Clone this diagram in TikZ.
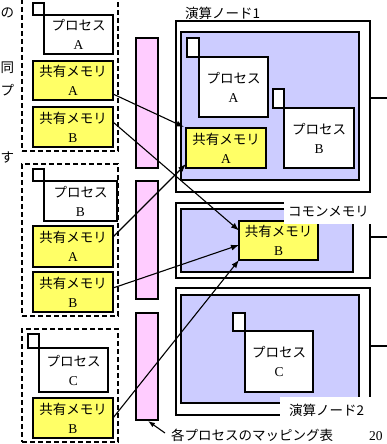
\documentclass[tikz,border=0pt]{standalone}
\usepackage{fontspec}
\setmainfont{Liberation Serif}
\newfontfamily\jp{Noto Sans CJK JP}
\usetikzlibrary{arrows.meta,calc}
\definecolor{memyellow}{HTML}{FFFF66}
\definecolor{nodepurple}{HTML}{CCCCFF}
\definecolor{mappink}{HTML}{FFCCFF}
\tikzset{
  base/.style={draw=black, line width=1.1pt, inner sep=0pt, outer sep=0pt,
    font=\fontsize{13.5}{19}\selectfont, align=center},
  grp/.style={base, dash pattern=on 5pt off 3pt},
  sqbox/.style={base, fill=white},
  proc/.style={base, fill=white},
  mem/.style={base, fill=memyellow},
  mapbar/.style={base, fill=mappink},
  outerbox/.style={base, fill=white},
  innerbox/.style={base, fill=nodepurple, line width=1.3pt},
  lbl/.style={inner sep=0pt, font=\fontsize{13.5}{19}\selectfont\jp},
  wlbl/.style={lbl, fill=white},
  arr/.style={line width=1.1pt, -{Latex[length=8pt,width=6pt]}},
  rline/.style={line width=2pt},
}
\begin{document}
\begin{tikzpicture}[x=1pt,y=-1pt]
\useasboundingbox (0,0) rectangle (387,444);

% text fragments at the left edge
\node[lbl, anchor=west] (t1) at (0.5,13) {の};
\node[lbl, anchor=west] (t2) at (0.5,68) {同};
\node[lbl, anchor=west] (t3) at (0.5,90) {プ};
\node[lbl, anchor=west] (t4) at (0.5,158) {す};

% left groups
\node[grp, minimum width=96pt, minimum height=156pt] (g1) at (70,73) {};
\node[grp, minimum width=96pt, minimum height=152pt] (g2) at (70,240) {};
\node[grp, minimum width=96pt, minimum height=113pt] (g3) at (70,385.5) {};

\node[sqbox, minimum width=11pt, minimum height=12pt] (sqA1) at (38.5,9) {};
\node[proc, minimum width=69pt, minimum height=39pt] (pA1) at (78.5,34.5) {{\jp プロセス}\\A};
\node[mem, minimum width=80pt, minimum height=39pt] (mA1) at (73,80.5) {{\jp 共有メモリ}\\A};
\node[mem, minimum width=80pt, minimum height=40pt] (mB1) at (73,127) {{\jp 共有メモリ}\\B};

\node[sqbox, minimum width=11pt, minimum height=12pt] (sqB2) at (38.5,175) {};
\node[proc, minimum width=73pt, minimum height=40pt] (pB2) at (80.5,201) {{\jp プロセス}\\B};
\node[mem, minimum width=80pt, minimum height=41pt] (mA2) at (73,246.5) {{\jp 共有メモリ}\\A};
\node[mem, minimum width=80pt, minimum height=40pt] (mB2) at (73,292) {{\jp 共有メモリ}\\B};

\node[sqbox, minimum width=11pt, minimum height=14pt] (sqC3) at (33.5,341) {};
\node[proc, minimum width=69pt, minimum height=44pt] (pC3) at (73.5,370) {{\jp プロセス}\\C};
\node[mem, minimum width=80pt, minimum height=40pt] (mB3) at (73,418) {{\jp 共有メモリ}\\B};

% mapping tables
\node[mapbar, minimum width=22pt, minimum height=130pt] (bar1) at (147,103) {};
\node[mapbar, minimum width=22pt, minimum height=118pt] (bar2) at (147,240) {};
\node[mapbar, minimum width=22pt, minimum height=107pt] (bar3) at (147,366.5) {};

% compute node 1
\node[lbl] (n1lbl) at (222.5,13) {演算ノード1};
\node[outerbox, minimum width=194pt, minimum height=171pt] (n1) at (273,106.5) {};
\node[innerbox, minimum width=178pt, minimum height=148pt] (n1in) at (270,106) {};
\node[sqbox, minimum width=12pt, minimum height=19pt] (sqA) at (193,47.5) {};
\node[proc, minimum width=69pt, minimum height=60pt] (pA) at (233.5,87) {{\jp プロセス}\\A};
\node[mem, minimum width=80pt, minimum height=40pt] (mA) at (226,148) {{\jp 共有メモリ}\\A};
\node[sqbox, minimum width=11pt, minimum height=19pt] (sqB) at (278.5,98.5) {};
\node[proc, minimum width=70pt, minimum height=60pt] (pB) at (319,138) {{\jp プロセス}\\B};

% common memory
\node[outerbox, minimum width=194pt, minimum height=75pt] (cm) at (273,240.5) {};
\node[innerbox, minimum width=172pt, minimum height=63pt] (cmin) at (267,240.5) {};
\node[mem, minimum width=79pt, minimum height=39pt] (mBc) at (278.5,240.5) {{\jp 共有メモリ}\\B};
\node[wlbl, minimum width=89pt, minimum height=24pt] (cmlbl) at (328.5,212) {コモンメモリ};

% compute node 2
\node[outerbox, minimum width=194pt, minimum height=127pt] (n2) at (273,351.5) {};
\node[innerbox, minimum width=178pt, minimum height=108pt] (n2in) at (270,349) {};
\node[sqbox, minimum width=12pt, minimum height=18pt] (sqC) at (239,322) {};
\node[proc, minimum width=68pt, minimum height=61pt] (pC) at (279,361.5) {{\jp プロセス}\\C};
\node[wlbl, minimum width=93pt, minimum height=27pt] (n2lbl) at (326.5,410.5) {演算ノード2};

% lines to the right
\coordinate (r1) at (387,98);
\coordinate (r2) at (387,237);
\coordinate (r3) at (387,346);
\draw[rline] (n1.east |- r1) -- (r1);
\draw[rline] (cm.east |- r2) -- (r2);
\draw[rline] (n2.east |- r3) -- (r3);

% arrows
\draw[arr] ($(mA1.east)+(0,13.5)$) -- ($(mA.north west)+(-2,-1)$);
\draw[arr] ($(mB1.east)+(0,-5)$) -- ($(mBc.west)+(0,-10)$);
\draw[arr] ($(mA2.east)+(0,-9.5)$) -- ($(mA.south west)+(0,-4)$);
\draw[arr] ($(mB2.east)+(0,-4)$) -- ($(mBc.west)+(0,4.5)$);
\draw[arr] (mB3.east) -- (mBc.south west);

% mapping label
\node[lbl, anchor=west] (maplbl) at (171,435) {各プロセスのマッピング表};
\draw[line width=1.1pt, -{Latex[length=7pt,width=5pt]}] ($(maplbl.west)+(-6,-2)$) -- ($(bar3.south)+(1,1)$);

\node[inner sep=0pt, anchor=west, font=\fontsize{13.5}{19}\selectfont] (pg) at (369,436) {20};
\end{tikzpicture}
\end{document}
